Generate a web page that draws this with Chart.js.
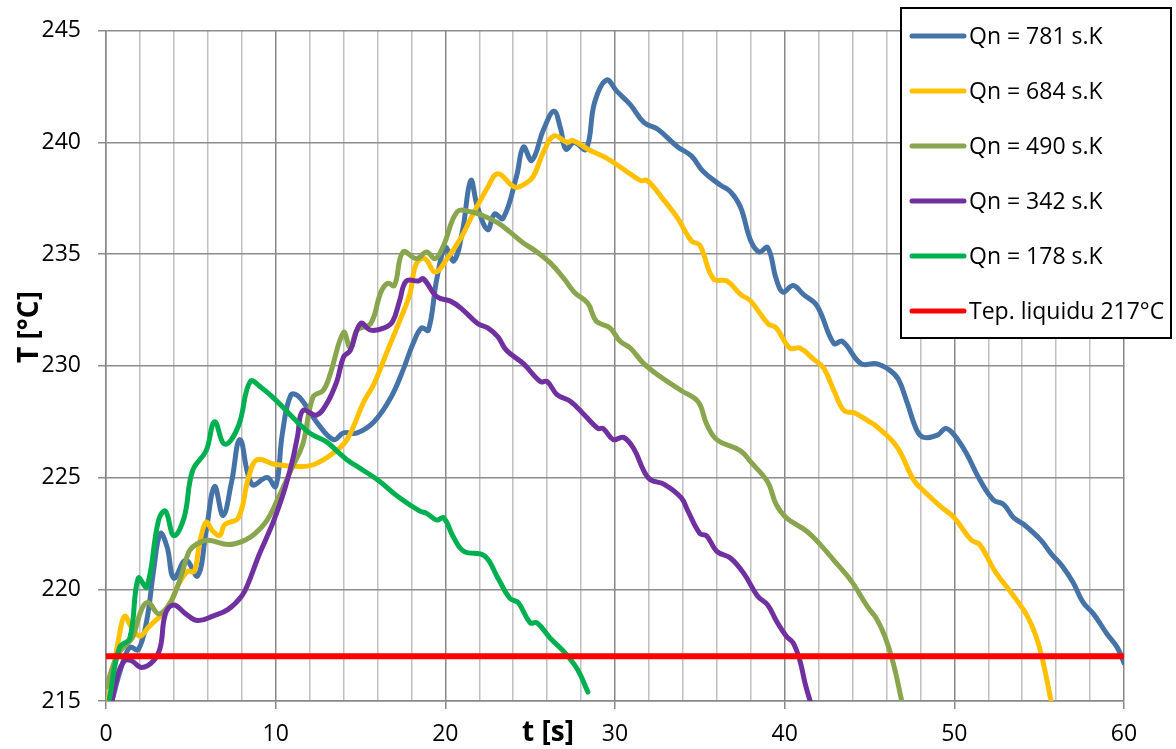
<!DOCTYPE html>
<html>
<head>
<meta charset="utf-8">
<script src="https://cdn.jsdelivr.net/npm/chart.js@4/dist/chart.umd.min.js"></script>
<style>
  html, body { margin: 0; padding: 0; background: #fff; }
  #wrap { width: 1176px; height: 749px; }
</style>
</head>
<body>
<div id="wrap"><canvas id="graf" width="1176" height="749"></canvas></div>
<script>
// hodnoty: cas t [s] a teplota T [°C]
const t781 = [0.35, 0.9, 1.4, 1.9, 2.4, 2.8, 3.2, 3.6, 4.0, 4.7, 5.4, 5.9, 6.4, 6.9, 7.4, 7.9, 8.6, 9.5, 10.0, 10.4, 10.9, 11.4, 12.4, 13.4, 14.0, 14.8, 15.8, 16.8, 17.5, 18.1, 18.6, 19.0, 19.5, 20.0, 20.5, 21.0, 21.5, 21.9, 22.5, 22.9, 23.4, 24.2, 24.6, 25.1, 25.8, 26.4, 26.8, 27.1, 27.6, 28.3, 28.8, 29.5, 30.1, 30.9, 31.7, 32.5, 33.7, 34.5, 35.2, 36.2, 36.8, 37.4, 38.0, 38.5, 39.0, 39.5, 39.9, 40.5, 41.1, 41.9, 42.9, 43.4, 44.5, 45.4, 46.2, 46.7, 47.2, 47.8, 48.2, 49.0, 49.5, 50.0, 50.7, 51.5, 52.3, 52.9, 53.5, 54.1, 55.1, 55.7, 56.4, 57.0, 57.6, 58.2, 59.0, 59.6, 60.0];
const T781 = [215.0, 216.5, 217.4, 217.3, 218.6, 220.8, 222.5, 221.9, 220.5, 221.3, 220.6, 222.6, 224.6, 223.3, 224.8, 226.7, 224.7, 225.0, 224.6, 227.0, 228.7, 228.6, 227.5, 226.7, 227.0, 227.0, 227.5, 228.6, 229.8, 231.0, 231.7, 231.6, 233.9, 235.3, 234.7, 236.0, 238.3, 237.1, 236.1, 236.8, 236.6, 238.5, 239.8, 239.2, 240.6, 241.4, 240.6, 239.7, 240.0, 239.7, 241.8, 242.8, 242.3, 241.7, 240.9, 240.6, 239.8, 239.4, 238.7, 238.1, 237.8, 237.1, 235.6, 235.1, 235.3, 233.9, 233.3, 233.6, 233.2, 232.7, 231.0, 231.1, 230.1, 230.1, 229.8, 229.4, 228.4, 227.1, 226.8, 226.9, 227.2, 226.9, 226.1, 224.9, 224.0, 223.8, 223.2, 222.9, 222.2, 221.6, 221.0, 220.3, 219.4, 218.9, 218.0, 217.4, 216.7];

const t684 = [0.15, 0.8, 1.1, 1.5, 2.0, 2.5, 3.2, 3.7, 4.2, 4.8, 5.2, 5.5, 5.9, 6.3, 6.7, 7.0, 7.8, 8.4, 8.9, 9.9, 11.5, 12.3, 13.4, 14.2, 15.2, 15.8, 16.6, 17.3, 17.9, 18.3, 18.8, 19.4, 20.1, 20.9, 21.5, 22.5, 23.1, 24.1, 24.8, 25.2, 25.8, 26.4, 27.2, 27.5, 28.4, 29.5, 30.7, 31.5, 31.9, 32.9, 33.7, 34.5, 35.0, 35.8, 36.6, 37.4, 38.0, 39.0, 39.5, 40.3, 40.9, 41.7, 42.3, 42.9, 43.5, 44.1, 45.0, 45.4, 46.6, 47.6, 48.2, 49.2, 50.0, 51.0, 51.5, 52.4, 53.4, 54.3, 54.9, 55.3, 55.7];
const T684 = [215.1, 218.0, 218.8, 218.3, 217.9, 218.3, 218.8, 219.2, 220.1, 220.8, 220.8, 222.0, 223.0, 222.6, 222.4, 222.9, 223.2, 225.0, 225.8, 225.6, 225.5, 225.6, 226.1, 226.7, 228.4, 229.2, 230.7, 232.0, 233.2, 234.6, 234.8, 234.2, 234.8, 235.7, 236.6, 238.0, 238.6, 238.0, 238.2, 238.5, 239.6, 240.3, 240.0, 240.1, 239.7, 239.3, 238.7, 238.3, 238.3, 237.4, 236.6, 235.6, 235.4, 233.9, 233.8, 233.2, 232.9, 231.9, 231.7, 230.8, 230.8, 230.3, 229.9, 228.9, 228.0, 227.9, 227.5, 227.3, 226.4, 224.9, 224.4, 223.7, 223.2, 222.2, 222.0, 220.8, 219.8, 218.8, 217.7, 216.5, 215.0];

const t490 = [0, 0.7, 1.3, 1.6, 2.1, 2.5, 3.1, 3.7, 4.3, 4.9, 5.3, 6.0, 7.2, 8.2, 8.8, 9.5, 10.1, 11.0, 11.6, 12.2, 12.8, 13.2, 14.0, 14.4, 14.8, 15.6, 16.2, 16.6, 17.0, 17.5, 18.3, 18.9, 19.4, 19.9, 20.7, 21.5, 22.3, 23.1, 23.8, 24.6, 25.4, 26.2, 27.0, 27.6, 28.4, 28.9, 29.7, 30.3, 30.9, 31.7, 32.7, 33.9, 34.9, 35.4, 36.0, 37.4, 38.0, 39.0, 39.5, 40.1, 41.3, 42.1, 42.9, 43.9, 44.9, 45.4, 45.9, 46.4, 46.9];
const T490 = [215.6, 217.1, 217.6, 217.9, 219.1, 219.4, 218.9, 219.3, 220.3, 221.7, 222.0, 222.2, 222.0, 222.2, 222.5, 223.1, 224.0, 225.5, 226.5, 228.6, 228.9, 229.6, 231.5, 230.8, 231.6, 231.9, 233.3, 233.7, 233.6, 235.1, 234.8, 235.1, 234.8, 235.4, 236.9, 236.9, 236.7, 236.4, 236.0, 235.5, 235.1, 234.6, 233.9, 233.3, 232.8, 232.0, 231.7, 231.1, 230.8, 230.1, 229.5, 228.9, 228.4, 227.4, 226.7, 226.2, 225.7, 224.8, 223.8, 223.2, 222.6, 222.0, 221.3, 220.4, 219.2, 218.7, 217.9, 216.7, 215.0];

const t342 = [0.35, 0.7, 1.1, 1.5, 2.1, 2.8, 3.2, 3.5, 4.0, 4.7, 5.4, 6.3, 7.2, 8.0, 8.4, 9.0, 9.4, 9.9, 10.5, 11.0, 11.3, 11.6, 12.4, 13.0, 13.6, 14.0, 14.4, 15.0, 15.6, 16.4, 16.9, 17.3, 17.7, 18.4, 18.7, 19.5, 20.3, 20.9, 21.9, 22.5, 23.1, 23.6, 24.6, 25.6, 26.0, 26.6, 27.4, 28.2, 29.0, 29.3, 29.9, 30.5, 31.1, 31.7, 32.1, 32.9, 33.9, 34.3, 35.0, 35.4, 36.0, 36.8, 37.6, 38.4, 39.0, 39.5, 40.1, 40.5, 40.9, 41.2, 41.5];
const T342 = [215.0, 216.2, 216.8, 216.8, 216.5, 216.8, 217.4, 218.9, 219.3, 218.9, 218.6, 218.8, 219.1, 219.7, 220.3, 221.5, 222.2, 223.1, 224.4, 225.8, 226.9, 228.0, 227.8, 228.3, 229.3, 230.4, 230.7, 231.9, 231.6, 231.7, 232.0, 232.9, 233.8, 233.8, 233.9, 233.1, 232.9, 232.6, 231.9, 231.7, 231.3, 230.7, 230.1, 229.3, 229.3, 228.7, 228.4, 227.8, 227.2, 227.2, 226.7, 226.8, 226.3, 225.3, 224.9, 224.7, 224.1, 223.5, 222.5, 222.4, 221.7, 221.4, 220.7, 219.7, 219.3, 218.6, 217.9, 217.6, 216.8, 215.8, 215.0];

const t178 = [0.2, 0.8, 1.4, 1.9, 2.4, 3.1, 3.5, 4.0, 4.6, 5.1, 5.9, 6.4, 7.0, 7.8, 8.5, 9.2, 10.1, 11.0, 12.0, 13.0, 13.6, 14.2, 14.8, 16.0, 17.3, 18.5, 18.9, 19.5, 19.9, 20.5, 21.1, 22.3, 23.1, 23.8, 24.3, 25.0, 25.4, 26.2, 27.0, 27.8, 28.4];
const T178 = [215.1, 217.4, 217.8, 220.5, 220.1, 223.1, 223.5, 222.4, 223.2, 225.3, 226.2, 227.5, 226.5, 227.3, 229.3, 229.0, 228.4, 227.7, 227.0, 226.6, 226.2, 225.8, 225.5, 224.9, 224.1, 223.5, 223.4, 223.1, 223.2, 222.3, 221.7, 221.5, 220.5, 219.6, 219.4, 218.5, 218.5, 217.8, 217.2, 216.4, 215.4];

const tLiq = [0, 60];
const TLiq = [217, 217];

const popisky = ["Qn = 781 s.K", "Qn = 684 s.K", "Qn = 490 s.K", "Qn = 342 s.K", "Qn = 178 s.K", "Tep. liquidu 217°C"];
const barvy = ["#4572A7", "#FFC000", "#89A54E", "#7030A0", "#00B050", "#FF0000"];

const FONT = "'Open Sans', 'Liberation Sans', sans-serif";

function body(t, T) {
  return t.map((x, i) => ({ x: x, y: T[i] }));
}

const serie = [
  body(t781, T781), body(t684, T684), body(t490, T490),
  body(t342, T342), body(t178, T178), body(tLiq, TLiq)
];

const datasets = serie.map((data, i) => ({
  label: popisky[i],
  data: data,
  borderColor: barvy[i],
  backgroundColor: barvy[i],
  borderWidth: i === 5 ? 6 : 5,
  pointRadius: 0,
  tension: 0.4,
  borderCapStyle: "round",
  borderJoinStyle: "round",
  order: 5 - i
}));

// legenda a popisy os kreslime sami
const vlastniPopisy = {
  id: "vlastniPopisy",
  afterDraw(chart) {
    const ctx = chart.ctx;
    ctx.save();

    // legenda
    ctx.fillStyle = "#fff";
    ctx.fillRect(901, 8, 270, 330);
    ctx.strokeStyle = "#000";
    ctx.lineWidth = 2;
    ctx.strokeRect(901, 8, 270, 330);

    ctx.font = "23px " + FONT;
    ctx.textBaseline = "middle";
    ctx.textAlign = "left";
    chart.data.datasets.forEach((ds, i) => {
      const y = 36 + i * 55;
      ctx.strokeStyle = ds.borderColor;
      ctx.lineWidth = 5;
      ctx.lineCap = "round";
      ctx.beginPath();
      ctx.moveTo(912, y);
      ctx.lineTo(964, y);
      ctx.stroke();
      ctx.fillStyle = "#000";
      ctx.fillText(ds.label, 969, y + 1);
    });

    // popisy os
    ctx.font = "bold 28px " + FONT;
    ctx.fillStyle = "#000";
    ctx.textAlign = "center";
    ctx.fillText("t [s]", 548, 733);

    ctx.translate(30, 327);
    ctx.rotate(-Math.PI / 2);
    ctx.fillText("T [°C]", 0, 0);
    ctx.restore();
  }
};

new Chart(document.getElementById("graf"), {
  type: "line",
  data: { datasets },
  plugins: [vlastniPopisy],
  options: {
    responsive: false,
    animation: false,
    devicePixelRatio: 1,
    layout: { padding: { top: 29, right: 52, left: 0, bottom: 0 } },
    plugins: {
      legend: { display: false },
      tooltip: { enabled: false }
    },
    scales: {
      x: {
        type: "linear",
        min: 0,
        max: 60,
        afterFit: s => { s.height = 48; },
        ticks: {
          stepSize: 2,
          autoSkip: false,
          maxRotation: 0,
          padding: 12,
          color: "#000",
          font: { family: FONT, size: 23 },
          callback: v => (v % 10 === 0 ? v : "")
        },
        grid: {
          lineWidth: 1.5,
          color: c => (c.tick && c.tick.value % 10 === 0 ? "#878787" : "#c0c0c0"),
          tickColor: c => (c.tick && c.tick.value % 10 === 0 ? "#878787" : "rgba(0,0,0,0)"),
          tickLength: 8
        },
        border: { color: "#878787", width: 1.5 }
      },
      y: {
        min: 215,
        max: 245,
        afterFit: s => { s.width = 106; },
        ticks: {
          stepSize: 5,
          padding: 17,
          color: "#000",
          font: { family: FONT, size: 23 }
        },
        grid: {
          lineWidth: 1.5,
          color: "#8c8c8c",
          tickColor: "#8c8c8c",
          tickLength: 8
        },
        border: { color: "#878787", width: 1.5 }
      }
    }
  }
});
</script>
</body>
</html>
